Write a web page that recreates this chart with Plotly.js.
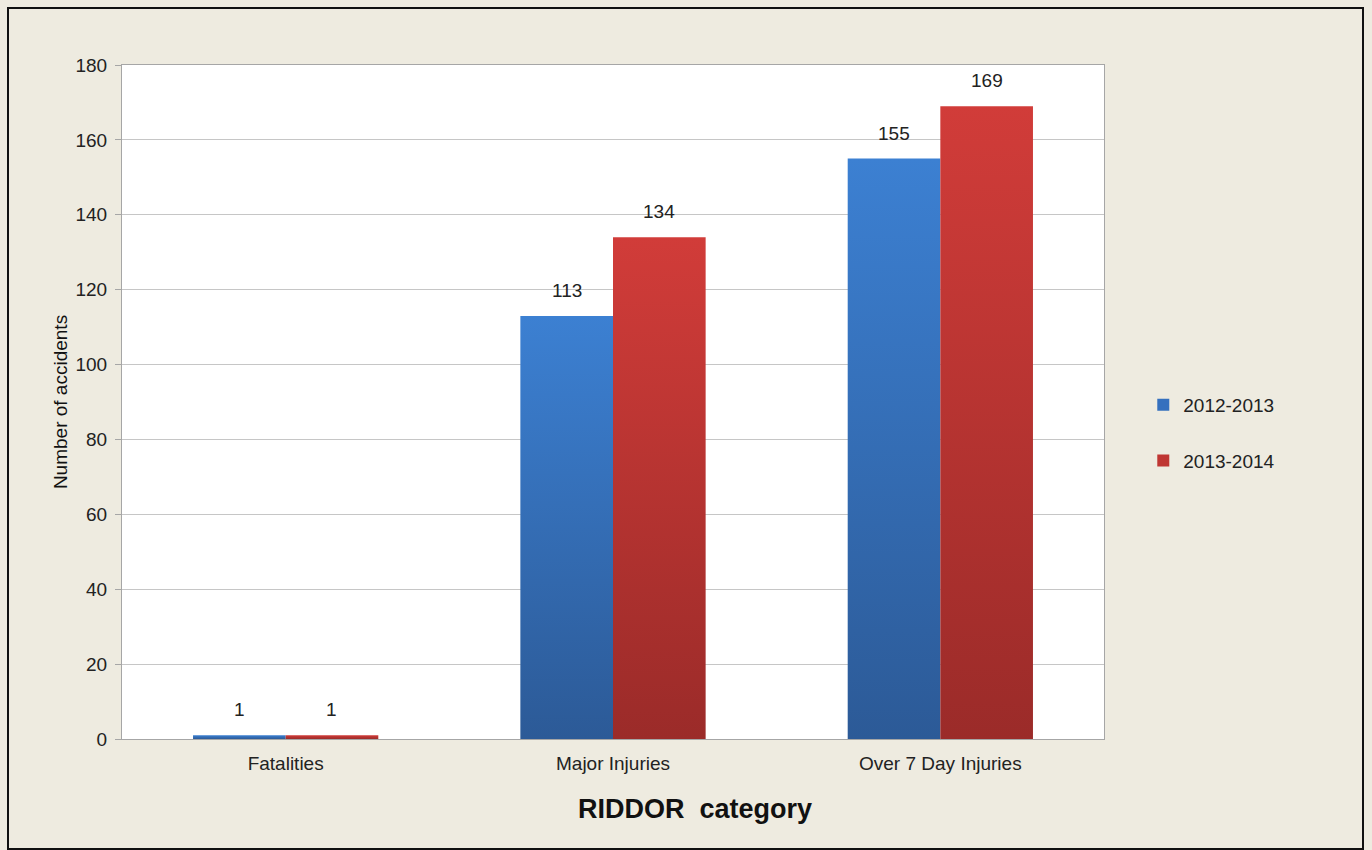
<!DOCTYPE html>
<html>
<head>
<meta charset="utf-8">
<script src="https://cdn.plot.ly/plotly-3.0.1.min.js"></script>
<style>
html,body{margin:0;padding:0;background:#EEEBE0;}
#frame{position:absolute;left:7px;top:7px;width:1353px;height:839px;border:2px solid #111;box-sizing:content-box;}
#chart{position:absolute;left:0;top:0;width:1372px;height:850px;}
</style>
</head>
<body>
<div id="chart"></div>
<div id="frame"></div>
<script>
const categories = ["Fatalities", "Major Injuries", "Over 7 Day Injuries"];
const series2012 = [1, 113, 155];
const series2013 = [1, 134, 169];
const seriesNames = ["2012-2013", "2013-2014"];
const yTicks = [0, 20, 40, 60, 80, 100, 120, 140, 160, 180];

const font = "Liberation Sans, Arial, sans-serif";
function barTrace(name, vals, color, group){
  return {type:"bar", name:name, x:categories, y:vals, legendgroup:group,
    marker:{color:color}, hoverinfo:"none"};
}
const traces = [
  barTrace(seriesNames[0], series2012, "#3570BE", "a"),
  barTrace(seriesNames[1], series2013, "#BF3633", "b")
];
// data labels placed over each bar via the axes' own scales
const annotations = [];
[series2012, series2013].forEach(function(vals, s){
  vals.forEach(function(v, i){
    annotations.push({xref:"x", yref:"y", x:categories[i], y:v, text:String(v),
      showarrow:false, yanchor:"bottom", yshift:13, xshift:(s===0?-46.3:46.3),
      font:{size:19, color:"#222", family:font}});
  });
});
annotations.push({text:"<b>RIDDOR  category</b>", xref:"paper", yref:"paper", x:0.584, y:-0.078,
  xanchor:"center", yanchor:"top", showarrow:false, font:{size:27, color:"#111", family:font}});

const layout = {
  width:1372, height:850,
  paper_bgcolor:"rgba(0,0,0,0)", plot_bgcolor:"#FFFFFF",
  margin:{l:122, r:268, t:65, b:111},
  barmode:"group", bargap:0.434, bargroupgap:0,
  font:{family:font, size:19, color:"#222"},
  showlegend:true,
  legend:{x:1.04, y:0.454, xanchor:"left", yanchor:"middle", font:{size:19, color:"#222"},
          tracegroupgap:28, itemwidth:30, bgcolor:"rgba(0,0,0,0)", traceorder:"grouped"},
  xaxis:{showline:true, linecolor:"#A6A6A6", linewidth:1, mirror:true, ticks:"",
         tickfont:{size:19, color:"#222"}, ticklabelstandoff:7, fixedrange:true, automargin:false},
  yaxis:{range:[0,180], tickvals:yTicks, showgrid:true, gridcolor:"#C6C6C6", gridwidth:1,
         showline:true, linecolor:"#A6A6A6", linewidth:1, mirror:true, ticks:"outside",
         ticklen:6, tickcolor:"#A6A6A6", tickfont:{size:19, color:"#222"}, zeroline:false,
         ticklabelstandoff:4,
         title:{text:"Number of accidents", font:{size:19, color:"#111"}, standoff:2},
         automargin:false},
  annotations:annotations
};
Plotly.newPlot("chart", traces, layout, {displayModeBar:false, staticPlot:true}).then(function(gd){
  const svg = gd.querySelector("svg.main-svg");
  const ns = "http://www.w3.org/2000/svg";
  let defs = svg.querySelector("defs");
  if(!defs){defs = document.createElementNS(ns,"defs"); svg.insertBefore(defs, svg.firstChild);}
  function grad(id, top, bottom){
    const g = document.createElementNS(ns,"linearGradient");
    g.setAttribute("id", id); g.setAttribute("x1","0"); g.setAttribute("y1","0");
    g.setAttribute("x2","0"); g.setAttribute("y2","1");
    [[0,top],[1,bottom]].forEach(function(s){
      const st = document.createElementNS(ns,"stop");
      st.setAttribute("offset", s[0]); st.setAttribute("stop-color", s[1]);
      g.appendChild(st);
    });
    defs.appendChild(g);
  }
  grad("gBlue", "#3C80D2", "#2C5A97");
  grad("gRed", "#D13C39", "#9B2B29");
  const groups = gd.querySelectorAll(".barlayer .trace");
  const ids = ["gBlue","gRed"];
  groups.forEach(function(tg, i){
    tg.querySelectorAll("path").forEach(function(p){
      p.style.fill = "url(#" + ids[i] + ")";
    });
  });
});
</script>
</body>
</html>
